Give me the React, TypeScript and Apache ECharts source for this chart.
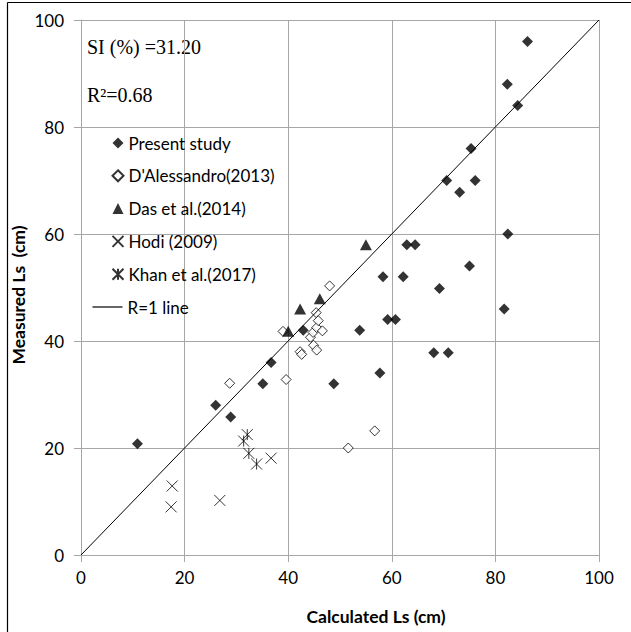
import React, { useEffect, useRef } from "react";
import * as echarts from "echarts";

const presentStudy: number[][] = [
  [10.9, 20.8], [26, 28], [28.9, 25.8], [35.1, 32], [36.7, 36], [42.9, 42],
  [48.8, 32], [53.8, 42], [57.7, 34], [58.3, 52], [59.2, 44], [60.7, 44],
  [62.2, 52], [62.9, 58], [64.5, 58], [68.1, 37.8], [69.2, 49.8], [70.6, 70],
  [70.9, 37.8], [73.1, 67.8], [75, 54], [75.3, 76], [76.1, 70], [81.7, 46],
  [82.3, 88], [82.4, 60], [84.3, 84], [86.2, 96],
];
const dAlessandro: number[][] = [
  [28.7, 32.1], [39.0, 41.8], [39.6, 32.8], [42.3, 38.0], [42.6, 37.5],
  [44.3, 40.7], [44.8, 41.6], [44.9, 39.2], [45.4, 45.3], [45.5, 42.5],
  [45.5, 38.3], [45.8, 43.8], [46.6, 41.9], [48.0, 50.3], [51.6, 20.0],
  [56.7, 23.2],
];
const das: number[][] = [[40.0, 41.8], [42.3, 46.0], [46.1, 47.9], [55.0, 58.0]];
const hodi: number[][] = [[17.4, 9.0], [17.6, 12.9], [26.8, 10.2], [36.7, 18.1]];
const khan: number[][] = [[31.4, 21.3], [32.1, 22.5], [32.4, 19.0], [33.9, 17.0]];
const oneLine: number[][] = [[0, 0], [100, 100]];

const seriesNames = [
  "Present study",
  "D'Alessandro(2013)",
  "Das et al.(2014)",
  "Hodi (2009)",
  "Khan et al.(2017)",
  "R=1 line",
];
const annotations = ["SI (%) =31.20", "R\u00B2=0.68"];
const xTitle = "Calculated Ls (cm)";
const yTitle = "Measured Ls  (cm)";

const X_PATH = "path://M0,0L10,10M10,0L0,10";
const ASTER_PATH = "path://M0,0L10,10M10,0L0,10M5,0L5,10";

export default function App() {
  const ref = useRef<HTMLDivElement>(null);
  useEffect(() => {
    if (!ref.current) return;
    const chart = echarts.init(ref.current, null, { renderer: "svg" });
    const sans = "Lato";
    const grid = "#a6a6a6";
    const legendText = { color: "#000", fontFamily: sans, fontSize: 17, lineHeight: 17 };
    const pitch = 32.8;
    const firstRow = 143;
    chart.setOption({
      animation: false,
      backgroundColor: "#fff",
      grid: { left: 81, top: 20, width: 518, height: 535 },
      xAxis: {
        type: "value",
        min: 0,
        max: 100,
        interval: 20,
        axisLine: { show: true, lineStyle: { color: grid, width: 1 } },
        axisTick: { show: true, length: 7, lineStyle: { color: grid } },
        splitLine: { show: true, lineStyle: { color: grid, width: 1 } },
        axisLabel: { color: "#000", fontFamily: sans, fontSize: 17, margin: 14 },
      },
      yAxis: {
        type: "value",
        min: 0,
        max: 100,
        interval: 20,
        axisLine: { show: true, lineStyle: { color: grid, width: 1 } },
        axisTick: { show: true, length: 7, lineStyle: { color: grid } },
        splitLine: { show: true, lineStyle: { color: grid, width: 1 } },
        axisLabel: { color: "#000", fontFamily: sans, fontSize: 17, margin: 17 },
      },
      legend: [
        {
          orient: "vertical",
          left: 110,
          top: firstRow - 8.5,
          padding: 0,
          itemWidth: 11,
          itemHeight: 11,
          itemGap: pitch - 17,
          itemTextGap: 14.5,
          textStyle: legendText,
          data: seriesNames.slice(0, 5),
        },
        {
          orient: "vertical",
          left: 92.5,
          top: firstRow + pitch * 5 - 8.5,
          padding: 0,
          itemWidth: 30,
          itemHeight: 1.2,
          itemTextGap: 7,
          textStyle: legendText,
          data: [{ name: seriesNames[5], icon: "rect" }],
        },
      ],
      graphic: [
        { type: "line", shape: { x1: 7.5, y1: 2.5, x2: 7.5, y2: 632 }, style: { stroke: "#000", lineWidth: 1.2 } },
        { type: "line", shape: { x1: 7.5, y1: 2.5, x2: 631, y2: 2.5 }, style: { stroke: "#000", lineWidth: 1.2 } },
        {
          type: "text", x: 87, y: 47,
          style: { text: annotations[0], font: "20px 'Liberation Serif'", fill: "#000", verticalAlign: "middle" },
        },
        {
          type: "text", x: 87, y: 95,
          style: { text: annotations[1], font: "20px 'Liberation Serif'", fill: "#000", verticalAlign: "middle" },
        },
        {
          type: "text", x: 376, y: 616,
          style: { text: xTitle, font: "bold 17.5px Lato", fill: "#000", align: "center", verticalAlign: "middle" },
        },
        {
          type: "text", x: 18, y: 295, rotation: Math.PI / 2,
          style: { text: yTitle, font: "bold 17.5px Lato", fill: "#000", align: "center", verticalAlign: "middle" },
        },
      ],
      series: [
        {
          name: seriesNames[0], type: "scatter", data: presentStudy,
          symbol: "diamond", symbolSize: 11, itemStyle: { color: "#000" },
        },
        {
          name: seriesNames[1], type: "scatter", data: dAlessandro,
          symbol: "diamond", symbolSize: 10,
          itemStyle: { color: "#fff", borderColor: "#000", borderWidth: 1 },
        },
        {
          name: seriesNames[2], type: "scatter", data: das,
          symbol: "triangle", symbolSize: [12, 11], itemStyle: { color: "#000" },
        },
        {
          name: seriesNames[3], type: "scatter", data: hodi,
          symbol: X_PATH, symbolSize: 11,
          itemStyle: { color: "none", borderColor: "#000", borderWidth: 1 },
        },
        {
          name: seriesNames[4], type: "scatter", data: khan,
          symbol: ASTER_PATH, symbolSize: 11,
          itemStyle: { color: "none", borderColor: "#000", borderWidth: 1 },
        },
        {
          name: seriesNames[5], type: "line", data: oneLine, symbol: "none",
          lineStyle: { color: "#000", width: 1 }, itemStyle: { color: "#000" },
        },
      ],
    });
    return () => chart.dispose();
  }, []);
  return (
    <div
      ref={ref}
      style={{ position: "fixed", left: 0, top: 0, width: 631, height: 632, background: "#fff" }}
    />
  );
}
